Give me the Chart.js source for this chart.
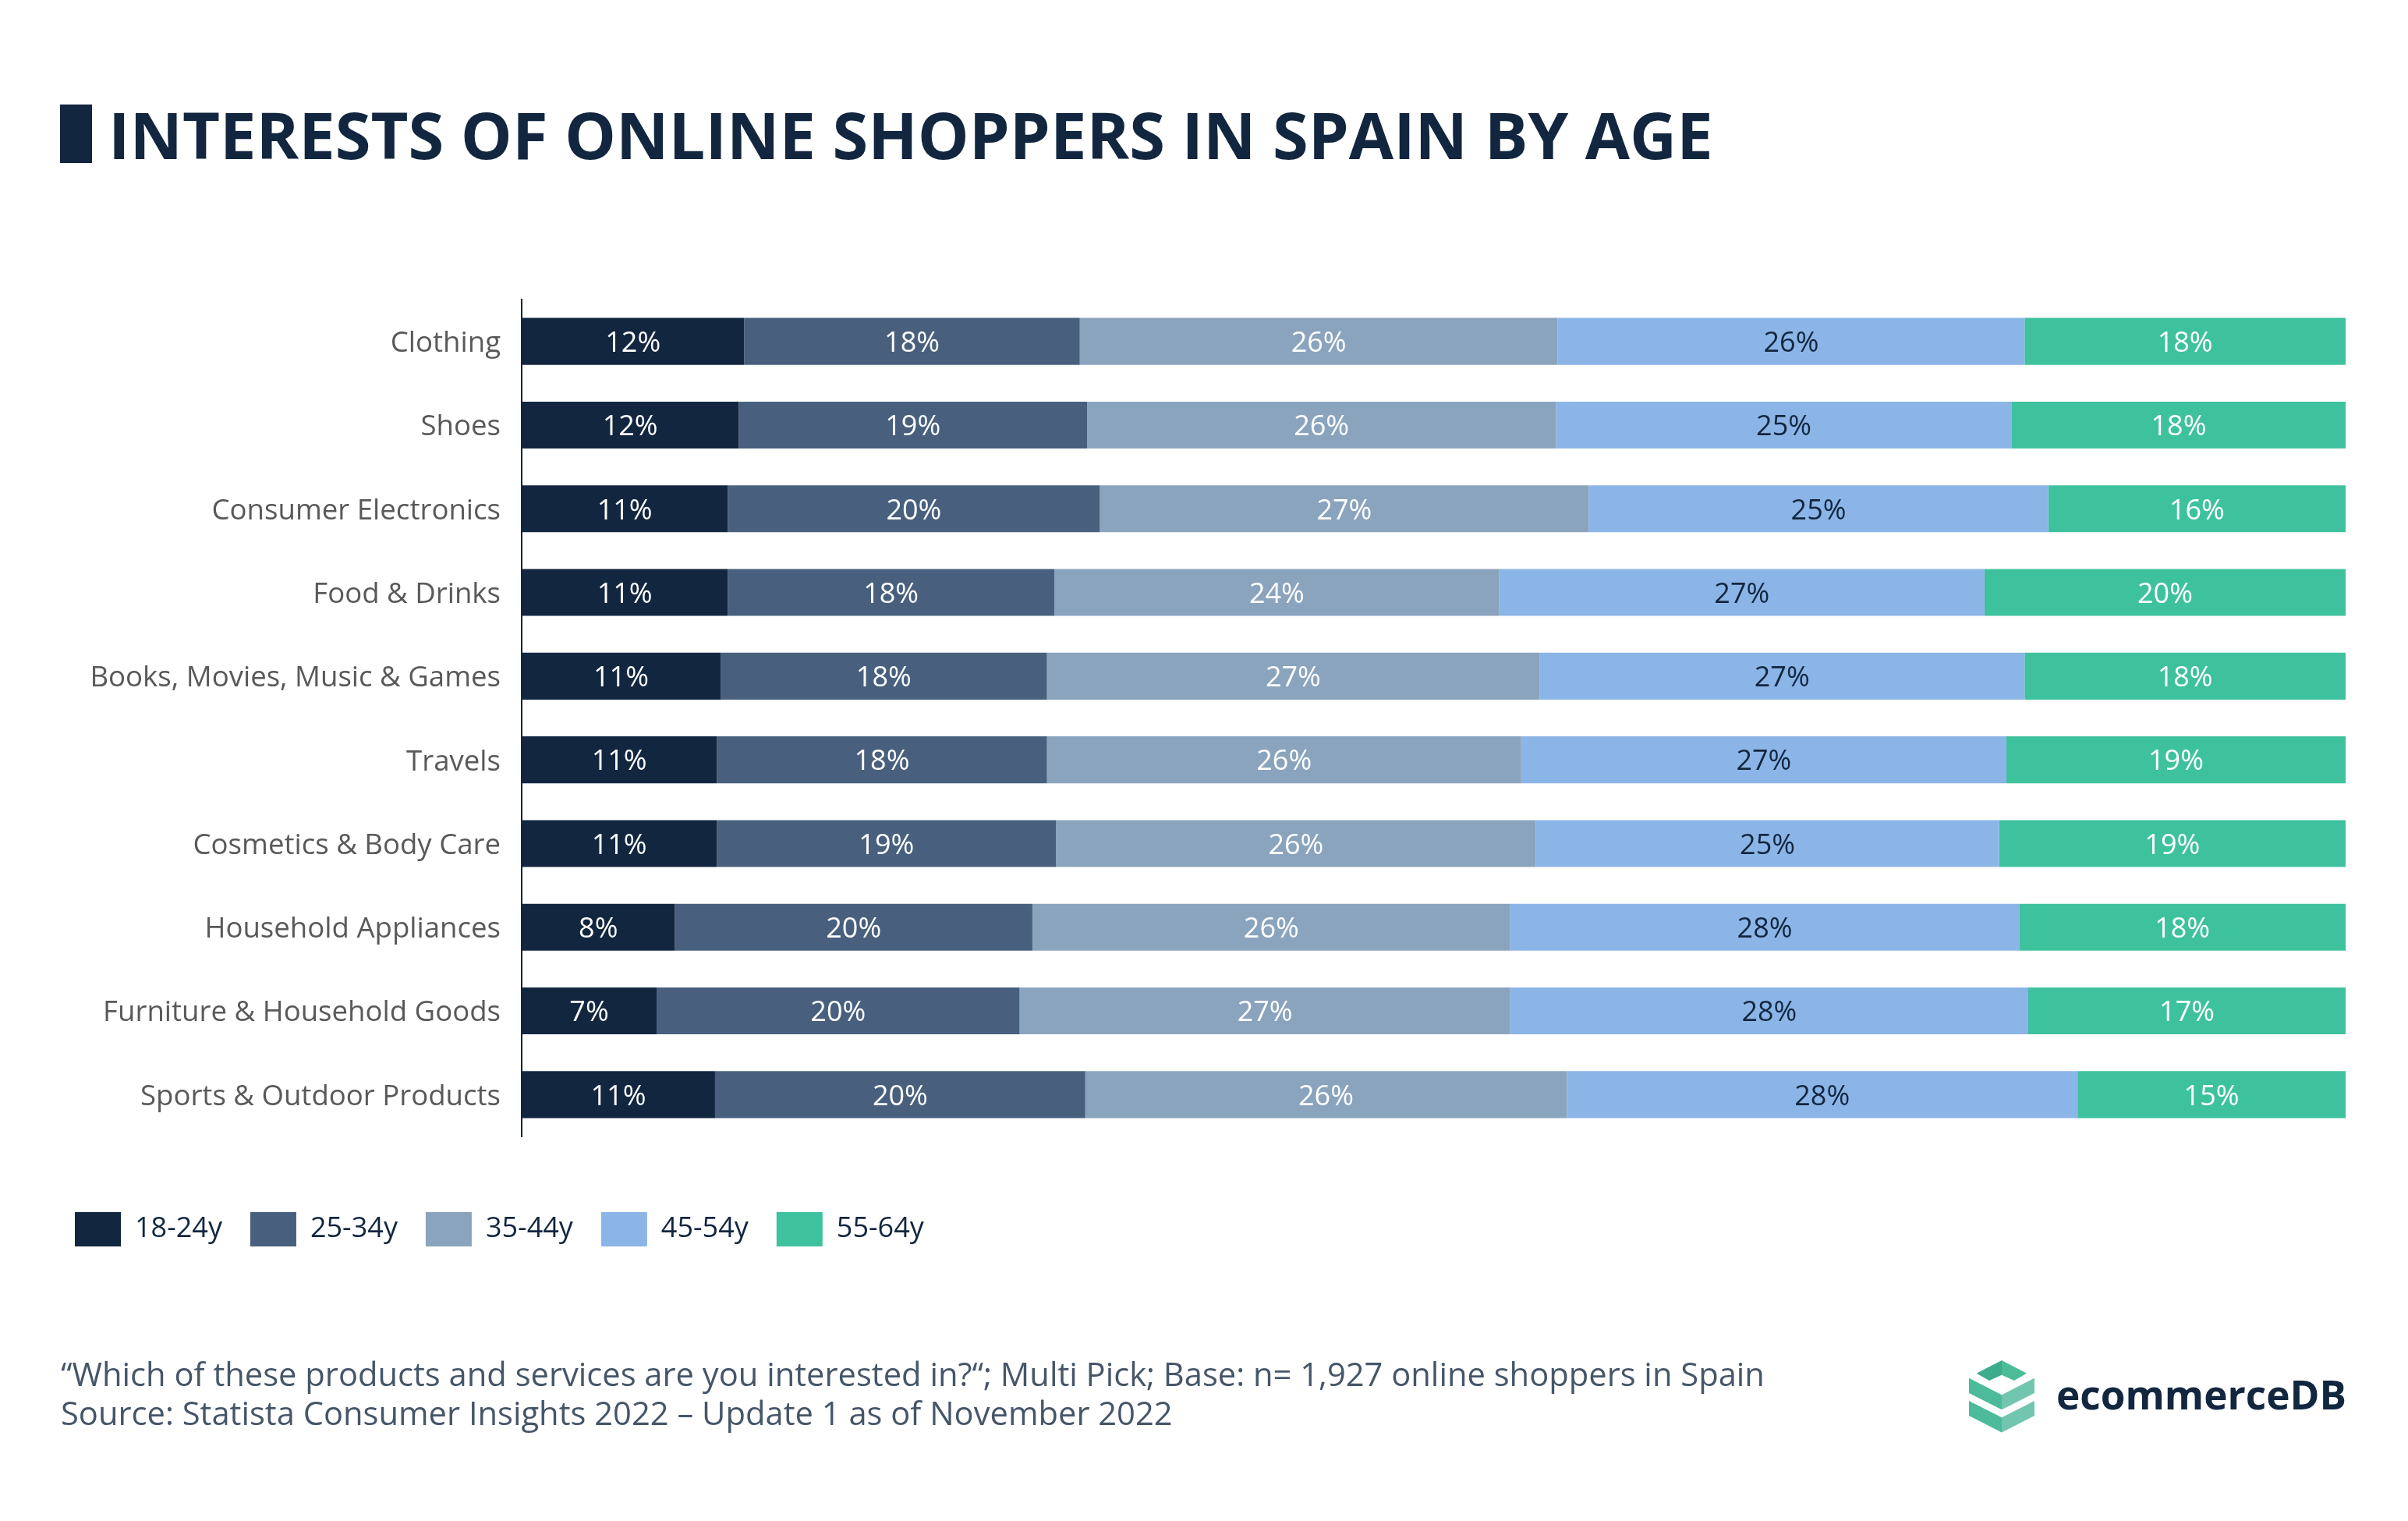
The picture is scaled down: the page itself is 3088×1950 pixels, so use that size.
<!DOCTYPE html>
<html>
<head>
<meta charset="utf-8">
<script src="https://cdn.jsdelivr.net/npm/chart.js@4.4.0/dist/chart.umd.min.js"></script>
<style>
  html, body { margin: 0; padding: 0; background: #ffffff; }
  #wrap { position: relative; width: 3088px; height: 1950px; overflow: hidden; background: #ffffff; }
  #chart { position: absolute; left: 0; top: 0; }
  .title-mark { position: absolute; left: 77px; top: 134px; width: 41px; height: 75px; background: #12263f; }
  .title { position: absolute; left: 139px; top: 130px; font-family: 'Open Sans', sans-serif; font-weight: 700;
           font-size: 83px; line-height: 83px; color: #12263f; white-space: nowrap; }
  .footer { position: absolute; left: 78px; top: 1736px; font-family: 'Open Sans', sans-serif; font-weight: 400;
            font-size: 41.7px; line-height: 50px; color: #465669; white-space: nowrap; }
  .logo-text { position: absolute; left: 2637px; top: 1762px; font-family: 'Open Sans', sans-serif; font-weight: 700;
               font-size: 51.3px; line-height: 51px; color: #12263f; white-space: nowrap; }
  .logo-icon { position: absolute; left: 2525px; top: 1744px; }
</style>
</head>
<body>
<div id="wrap">
  <canvas id="chart" width="3088" height="1950"></canvas>
  <div class="title-mark"></div>
  <div class="title">INTERESTS OF ONLINE SHOPPERS IN SPAIN BY AGE</div>
  <div class="footer">“Which of these products and services are you interested in?“; Multi Pick; Base: n= 1,927 online shoppers in Spain<br>Source: Statista Consumer Insights 2022 – Update 1 as of November 2022</div>
  <svg class="logo-icon" width="84" height="93" viewBox="0 0 84 93">
    <polygon points="9.6,16.7 42,0 42,18.7 26.1,26" fill="#3eab8c"/>
    <polygon points="42,0 74,16.7 58,26 42,18.7" fill="#4cbb98"/>
    <polygon points="0,22.7 42,44.3 42,63.3 0,42" fill="#4cbb99"/>
    <polygon points="42,44.3 84,22.7 84,42 42,63.3" fill="#72c6b0"/>
    <polygon points="0,52 42,73.3 42,92.5 0,71" fill="#4cbb99"/>
    <polygon points="42,73.3 84,52 84,71 42,92.5" fill="#72c6b0"/>
  </svg>
  <div class="logo-text">ecommerceDB</div>
</div>
<script>
// ---- Data (shares in %) ----
const categories = [
  'Clothing',
  'Shoes',
  'Consumer Electronics',
  'Food & Drinks',
  'Books, Movies, Music & Games',
  'Travels',
  'Cosmetics & Body Care',
  'Household Appliances',
  'Furniture & Household Goods',
  'Sports & Outdoor Products'
];
const seriesNames = ['18-24y', '25-34y', '35-44y', '45-54y', '55-64y'];
const age18to24 = [12.2, 11.9, 11.3, 11.3, 10.9, 10.7, 10.7, 8.4, 7.4, 10.6];
const age25to34 = [18.4, 19.1, 20.4, 17.9, 17.9, 18.1, 18.6, 19.6, 19.9, 20.3];
const age35to44 = [26.2, 25.7, 26.8, 24.4, 27.0, 26.0, 26.3, 26.2, 26.9, 26.4];
const age45to54 = [25.6, 25.0, 25.2, 26.6, 26.6, 26.6, 25.4, 27.9, 28.4, 28.0];
const age55to64 = [17.6, 18.3, 16.3, 19.8, 17.6, 18.6, 19.0, 17.9, 17.4, 14.7];

// ---- Styles ----
const seriesColors = ['#122640', '#48607e', '#8aa4be', '#8bb5e7', '#3ec29d'];
const labelColors  = ['#ffffff', '#ffffff', '#ffffff', '#12263f', '#ffffff'];
const seriesValues = [age18to24, age25to34, age35to44, age45to54, age55to64];

Chart.defaults.font.family = "'Open Sans', sans-serif";

const segmentLabels = {
  id: 'segmentLabels',
  afterDatasetsDraw(chart) {
    const ctx = chart.ctx;
    ctx.save();
    ctx.font = "400 36px 'Open Sans', sans-serif";
    ctx.textAlign = 'center';
    ctx.textBaseline = 'middle';
    chart.data.datasets.forEach((ds, di) => {
      const meta = chart.getDatasetMeta(di);
      meta.data.forEach((el, i) => {
        const v = ds.data[i];
        const cx = (el.x + el.base) / 2;
        ctx.fillStyle = labelColors[di];
        ctx.fillText(Math.round(v) + '%', cx, el.y + 3);
      });
    });
    ctx.restore();
  }
};

new Chart(document.getElementById('chart'), {
  type: 'bar',
  data: {
    labels: categories,
    datasets: seriesNames.map((name, i) => ({
      label: name,
      data: seriesValues[i],
      backgroundColor: seriesColors[i],
      borderWidth: 0,
      categoryPercentage: 1,
      barPercentage: 0.56
    }))
  },
  options: {
    indexAxis: 'y',
    responsive: false,
    animation: false,
    devicePixelRatio: 1,
    layout: { padding: { left: 60, right: 80, top: 384, bottom: 342 } },
    scales: {
      x: { stacked: true, min: 0, max: 100, display: false },
      y: {
        stacked: true,
        grid: { display: false, drawTicks: false },
        border: { display: true, color: '#12263f', width: 2 },
        ticks: { color: '#595959', padding: 27, labelOffset: 3, font: { size: 36.6 } },
        afterFit(scale) { scale.width = 609; }
      }
    },
    plugins: {
      tooltip: { enabled: false },
      title: { display: false },
      legend: {
        display: true,
        position: 'bottom',
        align: 'start',
        title: { display: true, text: ' ', font: { size: 10, lineHeight: 1 }, padding: { top: 51, bottom: 0 } },
        labels: {
          boxWidth: 59,
          boxHeight: 44,
          padding: 36,
          color: '#12263f',
          font: { size: 36 }
        }
      }
    }
  },
  plugins: [segmentLabels]
});
</script>
</body>
</html>
